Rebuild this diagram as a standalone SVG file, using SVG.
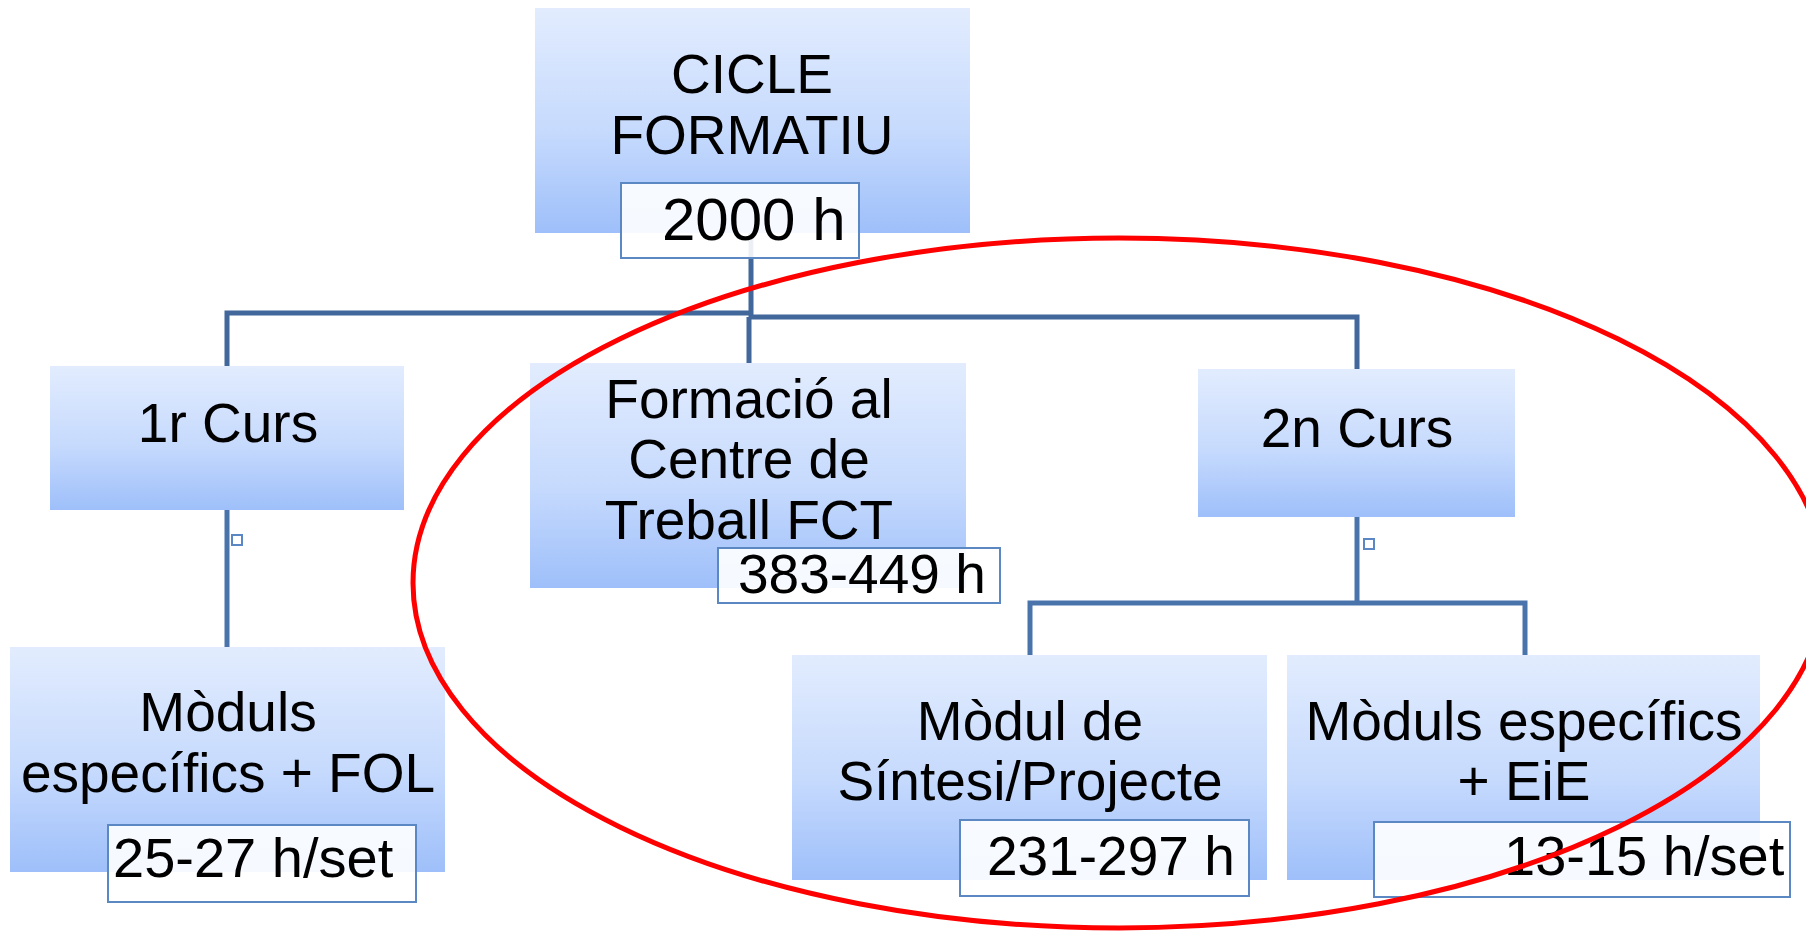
<svg xmlns="http://www.w3.org/2000/svg" width="1806" height="932" viewBox="0 0 1806 932">
  <defs>
    <linearGradient id="boxGrad" x1="0" y1="0" x2="0" y2="1">
      <stop offset="0" stop-color="#e2ecfe"/>
      <stop offset="0.55" stop-color="#c6dafd"/>
      <stop offset="1" stop-color="#9ebffa"/>
    </linearGradient>
  </defs>
  <style>
    .box { fill: url(#boxGrad); }
    .lbl { fill: #ffffff; fill-opacity: 0.9; stroke: #5b87c2; stroke-width: 2; }
    .t { font-family: "Liberation Sans", Arial, sans-serif; font-size: 55px; fill: #000; }
    .c { text-anchor: middle; }
    .conn { fill: none; stroke: #41679b; stroke-width: 5; stroke-linejoin: miter; }
    .conn2 { fill: none; stroke: #4874ab; stroke-width: 5; stroke-linejoin: miter; }
    .mark { fill: #ffffff; stroke: #5b87c5; stroke-width: 2; }
  </style>

  <g id="connectors">
    <path class="conn" d="M751,233 V317"/>
    <path class="conn" d="M227,366 V313 H751"/>
    <path class="conn" d="M749,364 V317"/>
    <path class="conn" d="M751,317 H1357 V369"/>
    <path class="conn2" d="M227,510 V647"/>
    <path class="conn2" d="M1357,517 V603"/>
    <path class="conn2" d="M1030,655 V603 H1525 V655"/>
    <rect class="mark" x="232" y="535" width="10" height="10"/>
    <rect class="mark" x="1364" y="539" width="10" height="10"/>
  </g>

  <g id="cicle">
    <rect class="box" x="535" y="8" width="435" height="225"/>
    <text class="t c" x="752" y="93">CICLE</text>
    <text class="t c" x="752" y="154">FORMATIU</text>
    <rect class="lbl" x="621" y="183" width="238" height="75"/>
    <text class="t" x="662" y="240" style="font-size:60px">2000 h</text>
  </g>

  <g id="curs1">
    <rect class="box" x="50" y="366" width="354" height="144"/>
    <text class="t c" x="228" y="442">1r Curs</text>
  </g>

  <g id="fct">
    <rect class="box" x="530" y="363" width="436" height="225"/>
    <text class="t c" x="749" y="418">Formació al</text>
    <text class="t c" x="749" y="478">Centre de</text>
    <text class="t c" x="749" y="539">Treball FCT</text>
    <rect class="lbl" x="718" y="548" width="282" height="55"/>
    <text class="t" x="738" y="593">383-449 h</text>
  </g>

  <g id="curs2">
    <rect class="box" x="1198" y="369" width="317" height="148"/>
    <text class="t c" x="1357" y="447">2n Curs</text>
  </g>

  <g id="moduls1">
    <rect class="box" x="10" y="647" width="435" height="225"/>
    <text class="t c" x="228" y="731">Mòduls</text>
    <text class="t c" x="228" y="792">específics + FOL</text>
    <rect class="lbl" x="108" y="825" width="308" height="77"/>
    <text class="t" x="113" y="877" style="font-size:56px">25-27 h/set</text>
  </g>

  <g id="sintesi">
    <rect class="box" x="792" y="655" width="475" height="225"/>
    <text class="t c" x="1030" y="740">Mòdul de</text>
    <text class="t c" x="1030" y="800">Síntesi/Projecte</text>
    <rect class="lbl" x="960" y="820" width="289" height="76"/>
    <text class="t" x="987" y="875">231-297 h</text>
  </g>

  <g id="moduls2">
    <rect class="box" x="1287" y="655" width="473" height="225"/>
    <text class="t c" x="1524" y="740">Mòduls específics</text>
    <text class="t c" x="1524" y="800">+ EiE</text>
    <rect class="lbl" x="1374" y="822" width="416" height="75"/>
    <text class="t" x="1504" y="875" style="font-size:56px">13-15 h/set</text>
  </g>

  <g id="highlight">
    <ellipse cx="1119" cy="583" rx="706" ry="345" fill="none" stroke="#ff0000" stroke-width="5"/>
  </g>
</svg>
